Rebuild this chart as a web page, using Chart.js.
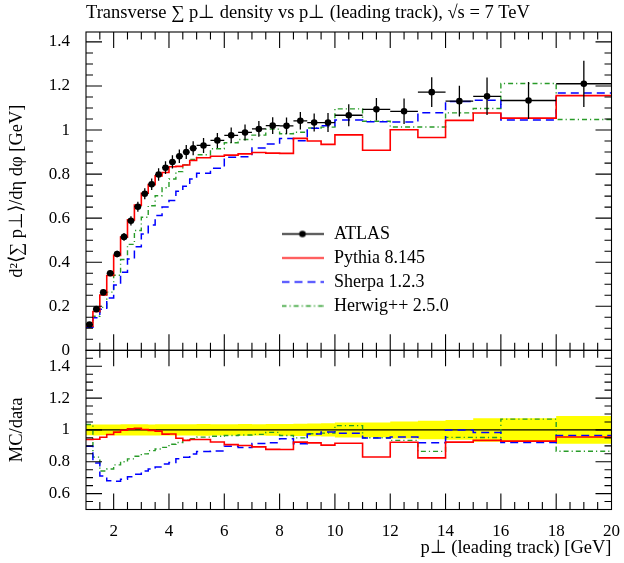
<!DOCTYPE html>
<html>
<head>
<meta charset="utf-8">
<script src="https://cdn.jsdelivr.net/npm/chart.js@4/dist/chart.umd.min.js"></script>
<style>
  html, body { margin: 0; padding: 0; background: #fff; }
</style>
</head>
<body>
<canvas id="ueChart" width="624" height="563"></canvas>
<script>
// bin edges of the histograms (GeV)
const binEdges = [1, 1.25, 1.5, 1.75, 2, 2.25, 2.5, 2.75, 3, 3.25, 3.5, 3.75, 4, 4.25, 4.5, 4.75, 5,
  5.5, 6, 6.5, 7, 7.5, 8, 8.5, 9, 9.5, 10, 11, 12, 13, 14, 15, 16, 18, 20]

const atlas = [0.117, 0.187, 0.263, 0.350, 0.437, 0.515, 0.588, 0.652, 0.711, 0.754, 0.798, 0.829,
  0.855, 0.881, 0.900, 0.917, 0.930, 0.953, 0.976, 0.989, 1.005, 1.020, 1.019, 1.042, 1.034, 1.034,
  1.067, 1.094, 1.085, 1.172, 1.131, 1.153, 1.134, 1.210]
const atlasErr = [0.004, 0.0065, 0.009, 0.012, 0.015, 0.018, 0.021, 0.023, 0.025, 0.026, 0.028, 0.029,
  0.030, 0.031, 0.032, 0.032, 0.034, 0.034, 0.035, 0.036, 0.036, 0.038, 0.038, 0.040, 0.041, 0.043,
  0.050, 0.051, 0.058, 0.068, 0.070, 0.085, 0.084, 0.105]
const pythia = [0.110, 0.176, 0.251, 0.340, 0.431, 0.514, 0.592, 0.659, 0.713, 0.752, 0.792, 0.807,
  0.833, 0.835, 0.841, 0.862, 0.874, 0.881, 0.886, 0.892, 0.898, 0.895, 0.894, 0.962, 0.950, 0.935,
  0.978, 0.908, 1.001, 0.966, 1.044, 1.077, 1.054, 1.156]
const sherpa = [0.105, 0.148, 0.187, 0.238, 0.296, 0.355, 0.415, 0.470, 0.528, 0.569, 0.612, 0.651,
  0.680, 0.722, 0.745, 0.778, 0.804, 0.827, 0.876, 0.879, 0.919, 0.937, 0.962, 0.951, 1.008, 1.020,
  1.045, 1.038, 1.037, 1.078, 1.130, 1.135, 1.045, 1.168]
const herwig = [0.121, 0.155, 0.195, 0.264, 0.341, 0.412, 0.481, 0.544, 0.604, 0.656, 0.702, 0.738,
  0.778, 0.811, 0.842, 0.866, 0.888, 0.915, 0.942, 0.957, 0.977, 1.004, 0.983, 0.990, 1.009, 1.013,
  1.096, 1.040, 1.014, 1.014, 1.078, 1.098, 1.211, 1.048]

const xTicks = [2, 4, 6, 8, 10, 12, 14, 16, 18, 20]
const yTicks = [0, 0.2, 0.4, 0.6, 0.8, 1, 1.2, 1.4]
const ratioTicks = [0.6, 0.8, 1, 1.2, 1.4]

const RED = '#ff0000'
const BLUE = '#0000ff'
const GREEN = 'rgb(40,155,40)'
const SHERPA_DASH = [8, 5]
const HERWIG_DASH = [5, 3, 1.2, 3]

// histogram as stepped line: one point per left edge plus the last right edge
const hist = (values) => values.map((v, i) => ({ x: binEdges[i], y: v }))
  .concat([{ x: binEdges[values.length], y: values[values.length - 1] }])
const ratio = (values) => values.map((v, i) => v / atlas[i])
const centers = atlas.map((v, i) => (binEdges[i] + binEdges[i + 1]) / 2)

const makeSym = (color, dash, dot) => {
  const c = document.createElement('canvas')
  c.width = 42
  c.height = 9
  const g = c.getContext('2d')
  g.strokeStyle = color
  g.lineWidth = 1.5
  g.setLineDash(dash)
  g.beginPath()
  g.moveTo(0, 4.5)
  g.lineTo(42, 4.5)
  g.stroke()
  if (dot) {
    g.fillStyle = color
    g.beginPath()
    g.arc(21, 4.5, 3.3, 0, 2 * Math.PI)
    g.fill()
  }
  return c
}

const histLine = (label, values, axis, color, dash, order, width) => ({
  label: label,
  data: hist(values),
  yAxisID: axis,
  borderColor: color,
  borderDash: dash,
  borderWidth: width,
  pointRadius: 0,
  stepped: true,
  fill: false,
  order: order
})

const bandLo = atlas.map((v, i) => 1 - atlasErr[i] / v)
const bandHi = atlas.map((v, i) => 1 + atlasErr[i] / v)

const datasets = [
  { label: 'band lo', data: hist(bandLo), yAxisID: 'yr', borderWidth: 0, borderColor: 'rgba(0,0,0,0)',
    pointRadius: 0, stepped: true, fill: false, order: 20 },
  { label: 'band hi', data: hist(bandHi), yAxisID: 'yr', borderWidth: 0, borderColor: 'rgba(0,0,0,0)',
    backgroundColor: 'rgb(255,255,0)', pointRadius: 0, stepped: true, fill: '-1', order: 19 },
  { label: 'unity', data: [{ x: 1, y: 1 }, { x: 20, y: 1 }], yAxisID: 'yr', borderColor: '#000',
    borderWidth: 1.3, pointRadius: 0, order: 15 },
  histLine('Pythia ratio', ratio(pythia), 'yr', RED, [], 3, 1.6),
  histLine('Sherpa ratio', ratio(sherpa), 'yr', BLUE, SHERPA_DASH, 4, 1.5),
  histLine('Herwig ratio', ratio(herwig), 'yr', GREEN, HERWIG_DASH, 5, 1.4),
  { label: 'ATLAS', data: centers.map((c, i) => ({ x: c, y: atlas[i] })), yAxisID: 'y',
    showLine: false, pointRadius: 3.3, pointBackgroundColor: '#000', pointBorderWidth: 0,
    borderColor: '#000', order: 0, legendSym: makeSym('#000', [], true) },
  Object.assign(histLine('Pythia 8.145', pythia, 'y', RED, [], 3, 1.6), { legendSym: makeSym(RED, [], false) }),
  Object.assign(histLine('Sherpa 1.2.3', sherpa, 'y', BLUE, SHERPA_DASH, 4, 1.5), { legendSym: makeSym(BLUE, SHERPA_DASH, false) }),
  Object.assign(histLine('Herwig++ 2.5.0', herwig, 'y', GREEN, HERWIG_DASH, 5, 1.4), { legendSym: makeSym(GREEN, HERWIG_DASH, false) })
]
const legendIds = [6, 7, 8, 9]

// move the legend box into the upper panel
const legendPlace = {
  id: 'legendPlace',
  afterLayout (chart) {
    chart.legend.left = 274
    chart.legend.top = 219
  }
}

const errorBars = {
  id: 'errorBars',
  afterDatasetsDraw (chart) {
    const { ctx, scales: { x, y } } = chart
    ctx.save()
    ctx.strokeStyle = '#000'
    ctx.lineWidth = 1.3
    ctx.beginPath()
    atlas.forEach((v, i) => {
      const yc = y.getPixelForValue(v)
      const xc = x.getPixelForValue(centers[i])
      ctx.moveTo(x.getPixelForValue(binEdges[i]), yc)
      ctx.lineTo(x.getPixelForValue(binEdges[i + 1]), yc)
      ctx.moveTo(xc, y.getPixelForValue(v - atlasErr[i]))
      ctx.lineTo(xc, y.getPixelForValue(v + atlasErr[i]))
    })
    ctx.stroke()
    ctx.restore()
  }
}

// frames with inward ticks on all four sides of both panels
const frameTicks = {
  id: 'frameTicks',
  afterDatasetsDraw (chart) {
    const { ctx, scales } = chart
    const x = scales.x
    const l = x.left
    const r = x.right
    ctx.save()
    ctx.strokeStyle = '#000'
    ctx.lineWidth = 1.1
    for (const id of ['y', 'yr']) {
      const s = scales[id]
      const top = s.top
      const bot = s.bottom
      ctx.strokeRect(l, top, r - l, bot - top)
      ctx.beginPath()
      for (let k = Math.ceil(s.min / 0.05); k * 0.05 < s.max; k++) {
        const v = k * 0.05
        if (v <= s.min + 1e-9) continue
        const len = k % 4 === 0 ? 16 : 7
        const py = s.getPixelForValue(v)
        ctx.moveTo(l, py)
        ctx.lineTo(l + len, py)
        ctx.moveTo(r, py)
        ctx.lineTo(r - len, py)
      }
      for (let k = 3; k < 40; k++) {
        const len = k % 4 === 0 ? 16 : 7.5
        const px = x.getPixelForValue(k / 2)
        ctx.moveTo(px, bot)
        ctx.lineTo(px, bot - len)
        ctx.moveTo(px, top)
        ctx.lineTo(px, top + len)
      }
      ctx.stroke()
    }
    ctx.restore()
  }
}

const serif = 'Liberation Serif'

new Chart(document.getElementById('ueChart'), {
  type: 'line',
  data: { datasets: datasets },
  options: {
    responsive: false,
    animation: false,
    events: [],
    layout: { padding: { top: 0, right: 9, bottom: 0, left: 0 } },
    plugins: {
      title: {
        display: true,
        text: 'Transverse \u2211 p\u22A5 density vs p\u22A5 (leading track), \u221As = 7 TeV',
        align: 'start',
        fullSize: false,
        color: '#000',
        font: { family: serif, size: 18.5, weight: 'normal', lineHeight: 1.2 },
        padding: { top: 2.5, bottom: 7.3 }
      },
      legend: {
        position: 'chartArea',
        align: 'start',
        labels: {
          usePointStyle: true,
          pointStyleWidth: 45,
          padding: 6,
          color: '#000',
          font: { family: serif, size: 18 },
          generateLabels: (chart) => legendIds.map((i) => {
            const ds = chart.data.datasets[i]
            return { text: ds.label, pointStyle: ds.legendSym, datasetIndex: i, hidden: false, lineWidth: 0, fontColor: '#000' }
          })
        }
      },
      tooltip: { enabled: false }
    },
    scales: {
      x: {
        type: 'linear',
        position: 'bottom',
        min: 1,
        max: 20,
        grid: { display: false },
        border: { display: false },
        afterBuildTicks: (axis) => { axis.ticks = xTicks.map((v) => ({ value: v })) },
        afterFit: (axis) => { axis.height = 53.5 },
        ticks: { autoSkip: false, maxRotation: 0, padding: 4, color: '#000', font: { family: serif, size: 17 }, callback: (v) => String(v) },
        title: {
          display: true,
          text: 'p\u22A5 (leading track) [GeV]',
          align: 'end',
          color: '#000',
          font: { family: serif, size: 18.5, lineHeight: 1.2 },
          padding: { top: 0, bottom: 3.9 }
        }
      },
      yr: {
        type: 'linear',
        position: 'left',
        stack: 'panels',
        stackWeight: 1,
        min: 0.5,
        max: 1.5,
        grid: { display: false },
        border: { display: false },
        afterBuildTicks: (axis) => { axis.ticks = ratioTicks.map((v) => ({ value: v })) },
        afterFit: (axis) => { axis.width = 86 },
        ticks: { padding: 8, color: '#000', font: { family: serif, size: 17 }, callback: (v) => String(v) },
        title: {
          display: true,
          text: 'MC/data',
          color: '#000',
          font: { family: serif, size: 18.5, lineHeight: 1.2 },
          padding: { top: 5.9, bottom: 0 }
        }
      },
      y: {
        type: 'linear',
        position: 'left',
        stack: 'panels',
        stackWeight: 2,
        min: 0,
        max: 1.445,
        grid: { display: false },
        border: { display: false },
        afterBuildTicks: (axis) => { axis.ticks = yTicks.map((v) => ({ value: v })) },
        afterFit: (axis) => { axis.width = 86 },
        ticks: { padding: 8, color: '#000', font: { family: serif, size: 17 }, callback: (v) => String(v) },
        title: {
          display: true,
          text: 'd\u00B2\u27E8\u2211 p\u22A5\u27E9/d\u03B7 d\u03C6 [GeV]',
          color: '#000',
          font: { family: serif, size: 18.5, lineHeight: 1.2 },
          padding: { top: 5.9, bottom: 0 }
        }
      }
    }
  },
  plugins: [legendPlace, errorBars, frameTicks]
})
</script>
</body>
</html>
